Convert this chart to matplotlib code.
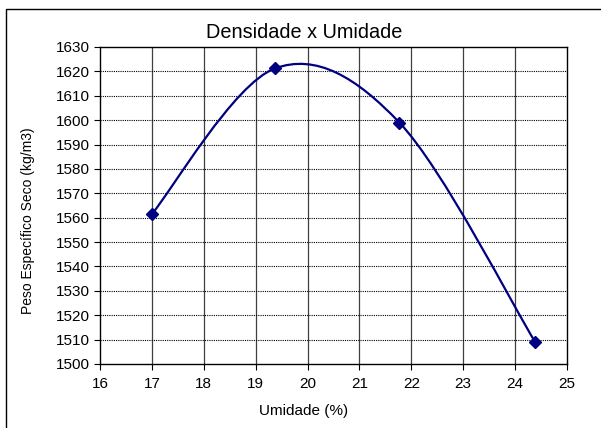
import matplotlib
matplotlib.use("Agg")
import matplotlib.pyplot as plt
from matplotlib.path import Path
from matplotlib.patches import PathPatch, Rectangle

plt.rcParams['font.family'] = ['Liberation Sans', 'DejaVu Sans']

umidade = [17.0, 19.37, 21.77, 24.39]
densidade = [1561.5, 1621.2, 1599.0, 1508.9]
x_ticks = list(range(16, 26))
y_ticks = list(range(1500, 1631, 10))
title = "Densidade x Umidade"
xlabel = "Umidade (%)"
ylabel = "Peso Específico Seco (kg/m3)"

W, H = 601, 428
fig = plt.figure(figsize=(W / 100, H / 100), dpi=100)
ax = fig.add_axes([100 / W, 1 - 364 / H, (567 - 100) / W, (364 - 47) / H])

# smoothed line (Excel-style Bezier through the data points)
pts = list(zip(umidade, densidade))
n = len(pts)
verts = [pts[0]]
codes = [Path.MOVETO]
for i in range(n - 1):
    p0 = pts[max(i - 1, 0)]
    p1 = pts[i]
    p2 = pts[i + 1]
    p3 = pts[min(i + 2, n - 1)]
    c1 = (p1[0] + (p2[0] - p0[0]) / 6, p1[1] + (p2[1] - p0[1]) / 6)
    c2 = (p2[0] - (p3[0] - p1[0]) / 6, p2[1] - (p3[1] - p1[1]) / 6)
    verts += [c1, c2, p2]
    codes += [Path.CURVE4] * 3
ax.add_patch(PathPatch(Path(verts, codes), facecolor='none', edgecolor='#000080',
                       lw=1.6, zorder=3))
ax.plot(umidade, densidade, linestyle='none', marker='D', markersize=6.5,
        color='#000080', zorder=4)

ax.set_xlim(16, 25)
ax.set_ylim(1500, 1630)
ax.set_xticks(x_ticks)
ax.set_yticks(y_ticks)
ax.tick_params(direction='out', length=4.5, width=0.8, labelsize=11, colors='black', pad=3)
ax.tick_params(axis='x', pad=5)

for x in x_ticks[1:-1]:
    ax.axvline(x, color='#404040', lw=0.9, zorder=1)
for y in y_ticks[1:-1]:
    ax.axhline(y, color='black', lw=0.8, linestyle=(0, (1, 1)), zorder=1)

for s in ax.spines.values():
    s.set_linewidth(1.0)
    s.set_color('black')

fig.text(304.5 / W, 1 - 32 / H, title, ha='center', va='center', fontsize=14.3)
fig.text(304 / W, 1 - 411 / H, xlabel, ha='center', va='center', fontsize=11)
fig.text(28 / W, 1 - 221 / H, ylabel, ha='center', va='center', fontsize=10, rotation=90)

fig.patches.append(Rectangle((6 / W, -0.1), 1.2, 1 - 9 / H + 0.1, transform=fig.transFigure,
                             facecolor='none', edgecolor='black', lw=1.0, zorder=0))

fig.savefig("out.png", dpi=100)
